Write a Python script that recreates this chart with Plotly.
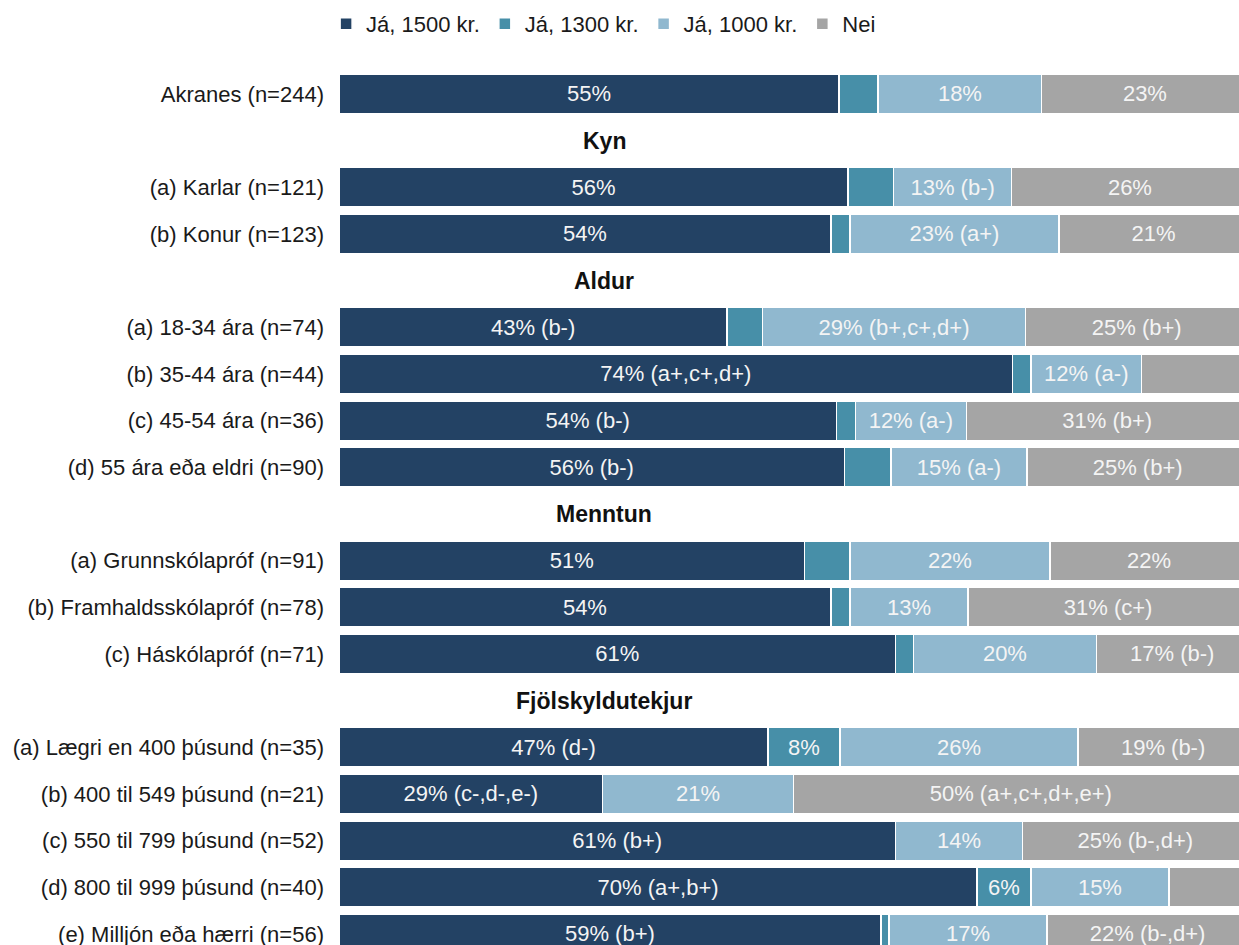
import plotly.graph_objects as go

# Rows (None = data row, "header" = section header)
rows = [
    ("Akranes (n=244)", None),
    ("Kyn", "header"),
    ("(a) Karlar (n=121)", None),
    ("(b) Konur (n=123)", None),
    ("Aldur", "header"),
    ("(a) 18-34 ára (n=74)", None),
    ("(b) 35-44 ára (n=44)", None),
    ("(c) 45-54 ára (n=36)", None),
    ("(d) 55 ára eða eldri (n=90)", None),
    ("Menntun", "header"),
    ("(a) Grunnskólapróf (n=91)", None),
    ("(b) Framhaldsskólapróf (n=78)", None),
    ("(c) Háskólapróf (n=71)", None),
    ("Fjölskyldutekjur", "header"),
    ("(a) Lægri en 400 þúsund (n=35)", None),
    ("(b) 400 til 549 þúsund (n=21)", None),
    ("(c) 550 til 799 þúsund (n=52)", None),
    ("(d) 800 til 999 þúsund (n=40)", None),
    ("(e) Milljón eða hærri (n=56)", None),
]

series_names = ["Já, 1500 kr.", "Já, 1300 kr.", "Já, 1000 kr.", "Nei"]

ja1500 = [55.0, 56.0, 54.1, 42.7, 74.1, 54.7, 55.6, 51.2, 54.1, 61.2, 47.2, 29.0, 61.2, 70.2, 59.6]
ja1300 = [4.3, 5.0, 2.1, 3.9, 2.0, 2.1, 5.1, 5.0, 2.1, 2.0, 7.9, 0.0, 0.0, 5.9, 0.9]
ja1000 = [18.0, 13.0, 23.0, 28.9, 12.2, 12.2, 15.0, 22.0, 13.0, 20.1, 26.2, 21.0, 14.0, 15.2, 17.4]
nei = [22.7, 26.0, 20.8, 24.5, 11.7, 31.0, 24.3, 21.8, 30.8, 16.7, 18.7, 50.0, 24.8, 8.7, 22.1]

lab1500 = ["55%", "56%", "54%", "43% (b-)", "74% (a+,c+,d+)", "54% (b-)", "56% (b-)",
           "51%", "54%", "61%", "47% (d-)", "29% (c-,d-,e-)", "61% (b+)", "70% (a+,b+)", "59% (b+)"]
lab1300 = ["", "", "", "", "", "", "", "", "", "", "8%", "", "", "6%", ""]
lab1000 = ["18%", "13% (b-)", "23% (a+)", "29% (b+,c+,d+)", "12% (a-)", "12% (a-)", "15% (a-)",
           "22%", "13%", "20%", "26%", "21%", "14%", "15%", "17%"]
labnei = ["23%", "26%", "21%", "25% (b+)", "", "31% (b+)", "25% (b+)",
          "22%", "31% (c+)", "17% (b-)", "19% (b-)", "50% (a+,c+,d+,e+)", "25% (b-,d+)", "", "22% (b-,d+)"]

colors = ["#234264", "#478fa8", "#90b8cf", "#a5a5a5"]

FONT = "Arial, 'Liberation Sans', sans-serif"
FS = 22

data_pos = [i for i, r in enumerate(rows) if r[1] is None]
data_labels = [rows[i][0] for i in data_pos]
header_pos = [(i, rows[i][0]) for i, r in enumerate(rows) if r[1] == "header"]

fig = go.Figure()
for name, vals, labs, col in zip(series_names, [ja1500, ja1300, ja1000, nei],
                                 [lab1500, lab1300, lab1000, labnei], colors):
    fig.add_trace(go.Bar(
        name=name, y=data_pos, x=vals, orientation="h",
        marker=dict(color=col, line=dict(color="white", width=1.5)),
        text=labs, textposition="inside", insidetextanchor="middle",
        textangle=0,
        textfont=dict(color="#f4f4f4", size=FS, family=FONT),
        width=0.84, hoverinfo="skip", cliponaxis=True,
    ))

for pos, title in header_pos:
    fig.add_annotation(x=29.2, y=pos, xref="x", yref="y", text="<b>" + title + "</b>",
                       showarrow=False, font=dict(size=23, color="#111111", family=FONT))

fig.update_layout(
    barmode="stack",
    width=1239, height=945,
    margin=dict(l=339, r=0, t=0, b=0),
    paper_bgcolor="white", plot_bgcolor="white",
    font=dict(family=FONT, size=FS, color="#1a1a1a"),
    uniformtext=dict(mode="show", minsize=8),
    legend=dict(orientation="h", x=0.294, xanchor="center", y=1 - 24 / 945, yanchor="middle",
                font=dict(size=FS, color="#1a1a1a"), traceorder="normal",
                itemwidth=30, bgcolor="rgba(0,0,0,0)"),
    xaxis=dict(range=[0, 99.0], showgrid=False, zeroline=False, showticklabels=False,
               showline=False, fixedrange=True),
    yaxis=dict(range=[18.236, -2.014], tickvals=data_pos, ticktext=data_labels,
               showgrid=False, zeroline=False, showline=False, ticks="",
               ticklabelstandoff=14, ticklabeloverflow="allow",
               tickfont=dict(size=FS, color="#1a1a1a", family=FONT),
               automargin=False, fixedrange=True),
)

fig.write_html(
    "out.html",
    config={"displayModeBar": False},
    post_script="document.body.style.margin='0';document.body.style.overflow='hidden';",
)
